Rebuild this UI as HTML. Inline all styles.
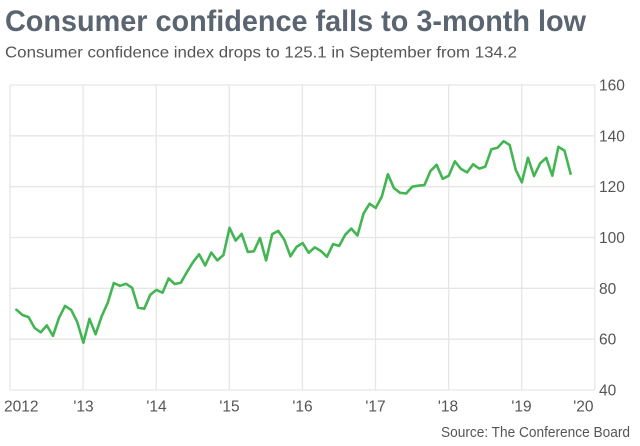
<!DOCTYPE html>
<html>
<head>
<meta charset="utf-8">
<style>
  html, body { margin: 0; padding: 0; background: #ffffff; }
  body { width: 640px; height: 446px; overflow: hidden; }
  svg { display: block; }
  text { font-family: "Liberation Sans", sans-serif; }
</style>
</head>
<body>
<svg width="640" height="446" viewBox="0 0 640 446" xmlns="http://www.w3.org/2000/svg">
  <rect x="0" y="0" width="640" height="446" fill="#ffffff"/>

  <!-- Title & subtitle -->
  <text x="5" y="31" font-size="30" font-weight="bold" fill="#5b6571" textLength="581" lengthAdjust="spacingAndGlyphs">Consumer confidence falls to 3-month low</text>
  <text x="5" y="57.5" font-size="16" fill="#555555" textLength="512" lengthAdjust="spacingAndGlyphs">Consumer confidence index drops to 125.1 in September from 134.2</text>

  <!-- Horizontal gridlines -->
  <g stroke="#e6e6e6" stroke-width="1.3" fill="none">
    <line x1="10" y1="85" x2="595" y2="85"/>
    <line x1="10" y1="135.8" x2="595" y2="135.8"/>
    <line x1="10" y1="186.7" x2="595" y2="186.7"/>
    <line x1="10" y1="237.5" x2="595" y2="237.5"/>
    <line x1="10" y1="288.3" x2="595" y2="288.3"/>
    <line x1="10" y1="339.2" x2="595" y2="339.2"/>
    <line x1="10" y1="390" x2="595" y2="390"/>
    <!-- Vertical gridlines -->
    <line x1="10" y1="85" x2="10" y2="390"/>
    <line x1="83.1" y1="85" x2="83.1" y2="390"/>
    <line x1="156.2" y1="85" x2="156.2" y2="390"/>
    <line x1="229.3" y1="85" x2="229.3" y2="390"/>
    <line x1="302.4" y1="85" x2="302.4" y2="390"/>
    <line x1="375.5" y1="85" x2="375.5" y2="390"/>
    <line x1="448.6" y1="85" x2="448.6" y2="390"/>
    <line x1="521.7" y1="85" x2="521.7" y2="390"/>
    <line x1="594.8" y1="85" x2="594.8" y2="390"/>
  </g>

  <!-- Y axis labels -->
  <g font-size="15.5" fill="#555555">
    <text x="599" y="90.5">160</text>
    <text x="599" y="141.3">140</text>
    <text x="599" y="192.2">120</text>
    <text x="599" y="243">100</text>
    <text x="599" y="293.8">80</text>
    <text x="599" y="344.7">60</text>
    <text x="599" y="395.5">40</text>
  </g>

  <!-- X axis labels -->
  <g font-size="15.5" fill="#555555" text-anchor="middle">
    <text x="4" y="411.7" text-anchor="start">2012</text>
    <text x="83.5" y="411.7">'13</text>
    <text x="156.5" y="411.7">'14</text>
    <text x="229.5" y="411.7">'15</text>
    <text x="302.5" y="411.7">'16</text>
    <text x="375.5" y="411.7">'17</text>
    <text x="448" y="411.7">'18</text>
    <text x="521.5" y="411.7">'19</text>
    <text x="593.5" y="411.7" text-anchor="end">'20</text>
  </g>

  <!-- Data line -->
  <polyline fill="none" stroke="#44b553" stroke-width="2.6" stroke-linejoin="round" stroke-linecap="round"
    points="16.39,309.7 22.48,315.0 28.57,317.1 34.66,328.0 40.75,332.3 46.84,325.4 52.93,335.9 59.02,317.8 65.11,305.9 71.2,309.9 77.29,322.1
    83.38,342.7 89.47,318.8 95.56,334.3 101.65,316.3 107.74,302.8 113.83,283.0 119.92,285.8 126.01,283.8 132.1,287.8 138.19,307.7 144.28,308.7 150.37,294.7
    156.46,289.9 162.55,292.7 168.64,278.4 174.73,284.0 180.82,282.7 186.91,272.1 193.0,262.2 199.09,254.3 205.18,265.5 211.27,252.5 217.36,260.4 223.45,255.0
    229.54,227.8 235.63,240.6 241.72,233.9 247.81,252.0 253.9,251.2 259.99,238.0 266.08,260.4 272.17,234.2 278.26,230.9 284.35,239.8 290.44,256.3 296.53,246.9
    302.62,243.1 308.71,252.8 314.8,247.4 320.89,251.0 326.98,256.8 333.07,244.1 339.16,245.9 345.25,234.7 351.34,228.6 357.43,235.5 363.52,213.6 369.61,203.7
    375.7,208.0 381.79,196.6 387.88,174.2 393.97,188.2 400.06,192.8 406.15,193.5 412.24,186.7 418.33,185.7 424.42,185.1 430.51,170.9 436.6,164.8 442.69,178.8
    448.78,175.7 454.87,161.3 460.96,168.9 467.05,172.4 473.14,164.3 479.23,168.6 485.32,166.6 491.41,149.3 497.5,147.8 503.59,141.2 509.68,145.0 515.77,169.9
    521.86,182.3 527.95,157.7 534.04,176.0 540.13,163.3 546.22,157.9 552.31,175.7 558.4,146.8 564.49,150.6 570.58,173.7"/>

  <!-- Source -->
  <text x="630" y="437" font-size="15" fill="#555555" text-anchor="end" textLength="189" lengthAdjust="spacingAndGlyphs">Source: The Conference Board</text>
</svg>
</body>
</html>
